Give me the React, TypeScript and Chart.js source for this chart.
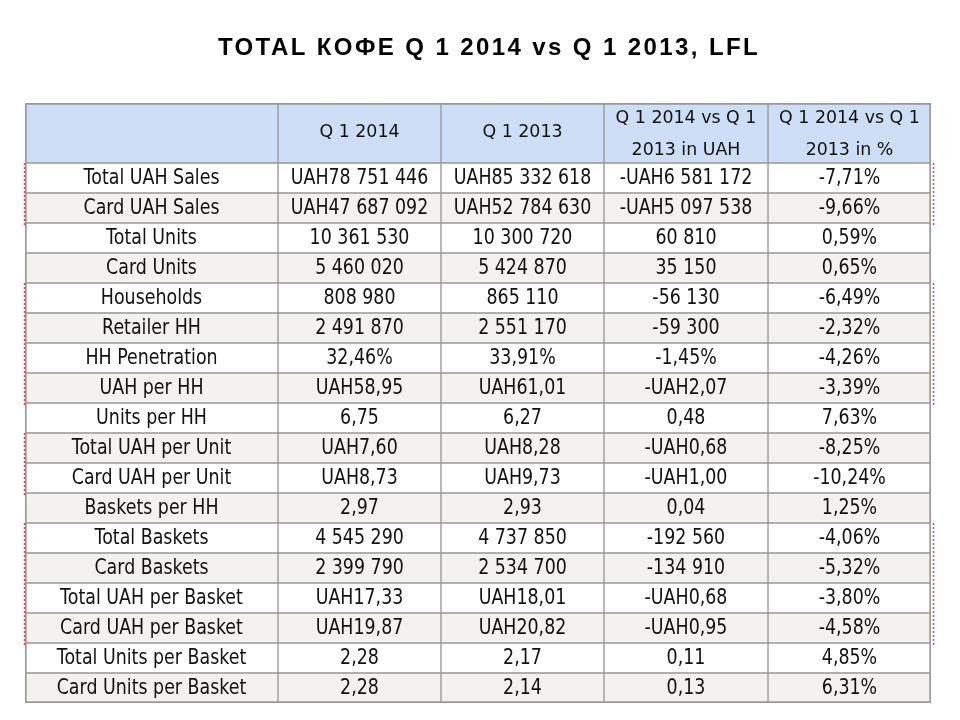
import React, { useEffect, useRef } from "react";
import { Chart, registerables } from "chart.js";

Chart.register(...registerables);

const titleText = "TOTAL КОФЕ Q 1 2014 vs Q 1 2013, LFL";

const headerLines: string[][] = [
  [],
  ["Q 1 2014"],
  ["Q 1 2013"],
  ["Q 1 2014 vs Q 1", "2013 in UAH"],
  ["Q 1 2014 vs Q 1", "2013 in %"],
];

const rowLabels = [
  "Total UAH Sales",
  "Card UAH Sales",
  "Total Units",
  "Card Units",
  "Households",
  "Retailer HH",
  "HH Penetration",
  "UAH per HH",
  "Units per HH",
  "Total UAH per Unit",
  "Card UAH per Unit",
  "Baskets per HH",
  "Total Baskets",
  "Card Baskets",
  "Total UAH per Basket",
  "Card UAH per Basket",
  "Total Units per Basket",
  "Card Units per Basket",
];

const rowFormats = [
  "uah0", "uah0", "int", "int", "int", "int", "pct", "uah2", "dec2",
  "uah2", "uah2", "dec2", "int", "int", "uah2", "uah2", "dec2", "dec2",
];

const q1_2014 = [
  78751446, 47687092, 10361530, 5460020, 808980, 2491870, 32.46, 58.95, 6.75,
  7.6, 8.73, 2.97, 4545290, 2399790, 17.33, 19.87, 2.28, 2.28,
];

const q1_2013 = [
  85332618, 52784630, 10300720, 5424870, 865110, 2551170, 33.91, 61.01, 6.27,
  8.28, 9.73, 2.93, 4737850, 2534700, 18.01, 20.82, 2.17, 2.14,
];

const diffUAH = [
  -6581172, -5097538, 60810, 35150, -56130, -59300, -1.45, -2.07, 0.48,
  -0.68, -1.0, 0.04, -192560, -134910, -0.68, -0.95, 0.11, 0.13,
];

const diffPct = [
  -7.71, -9.66, 0.59, 0.65, -6.49, -2.32, -4.26, -3.39, 7.63,
  -8.25, -10.24, 1.25, -4.06, -5.32, -3.8, -4.58, 4.85, 6.31,
];

// row groups highlighted with red dashed side markers (row indices)
const leftGroups = [[0, 1], [4, 7], [9, 10], [12, 15]];
const rightGroups = [[0, 1], [4, 7], [12, 15]];

// layout constants
const colWidths = [253, 163, 163, 164, 163];
const HEADER_ROWS = 2;
const GRID = "#999999";
const HEADER_BG = "#cddef6";
const BEIGE = "#f3f2ee";
const BODY_FONT = '20.5px "DejaVu Sans"';
const HEAD_FONT = '18.5px "DejaVu Sans"';
const BODY_SX = 0.85;
const HEAD_SX = 0.94;

function group(n: number): string {
  return Math.round(n).toString().replace(/\B(?=(\d{3})+(?!\d))/g, " ");
}

function fmt(v: number, kind: string): string {
  const sign = v < 0 ? "-" : "";
  const a = Math.abs(v);
  const d2 = a.toFixed(2).replace(".", ",");
  switch (kind) {
    case "uah0":
      return sign + "UAH" + group(a);
    case "int":
      return sign + group(a);
    case "pct":
      return sign + d2 + "%";
    case "uah2":
      return sign + "UAH" + d2;
    default:
      return sign + d2;
  }
}

function cellText(col: number, row: number): string {
  if (col === 0) return rowLabels[row];
  if (col === 1) return fmt(q1_2014[row], rowFormats[row]);
  if (col === 2) return fmt(q1_2013[row], rowFormats[row]);
  if (col === 3) return fmt(diffUAH[row], rowFormats[row]);
  return fmt(diffPct[row], "pct");
}

function drawScaled(ctx: CanvasRenderingContext2D, text: string, x: number, y: number, sx: number) {
  ctx.save();
  ctx.translate(x, y);
  ctx.scale(sx, 1);
  ctx.fillText(text, 0, 0);
  ctx.restore();
}

const tablePlugin = {
  id: "tableText",
  afterDatasetsDraw(chart: any) {
    const ctx: CanvasRenderingContext2D = chart.ctx;
    const yScale = chart.scales.y;
    const area = chart.chartArea;
    const half = (yScale.getPixelForValue(1) - yScale.getPixelForValue(0)) / 2;
    ctx.save();
    ctx.fillStyle = "#111";
    ctx.textAlign = "center";
    ctx.textBaseline = "alphabetic";
    // header
    const hTop = yScale.getPixelForValue(0) - half;
    const hBot = yScale.getPixelForValue(1) + half;
    const hMid = (hTop + hBot) / 2;
    ctx.font = HEAD_FONT;
    headerLines.forEach((lines, c) => {
      const el = chart.getDatasetMeta(c).data[0];
      const cx = (el.x + el.base) / 2;
      if (lines.length === 1) {
        drawScaled(ctx, lines[0], cx, hMid + 3.5, HEAD_SX);
      } else if (lines.length === 2) {
        drawScaled(ctx, lines[0], cx, hMid - 10, HEAD_SX);
        drawScaled(ctx, lines[1], cx, hMid + 21.7, HEAD_SX);
      }
    });
    // body
    ctx.font = BODY_FONT;
    for (let c = 0; c < colWidths.length; c++) {
      const meta = chart.getDatasetMeta(c);
      for (let r = 0; r < rowLabels.length; r++) {
        const el = meta.data[r + HEADER_ROWS];
        const cx = (el.x + el.base) / 2;
        drawScaled(ctx, cellText(c, r), cx, el.y + 5.5, BODY_SX);
      }
    }
    // red dashed markers
    ctx.strokeStyle = "#e8404a";
    ctx.lineWidth = 1.5;
    ctx.setLineDash([2, 2]);
    const seg = (x: number, g: number[]) => {
      const y0 = yScale.getPixelForValue(g[0] + HEADER_ROWS) - half;
      const y1 = yScale.getPixelForValue(g[1] + HEADER_ROWS) + half;
      ctx.beginPath();
      ctx.moveTo(x, y0);
      ctx.lineTo(x, y1 + 2);
      ctx.stroke();
    };
    leftGroups.forEach((g) => seg(area.left - 0.5, g));
    rightGroups.forEach((g) => seg(area.right + 2.5, g));
    ctx.restore();
  },
};

const titlePlugin = {
  id: "slideTitle",
  afterDraw(chart: any) {
    const ctx: CanvasRenderingContext2D = chart.ctx;
    ctx.save();
    ctx.fillStyle = "#000";
    ctx.font = 'bold 24px "Liberation Sans"';
    ctx.textAlign = "center";
    ctx.textBaseline = "alphabetic";
    (ctx as any).letterSpacing = "2.4px";
    ctx.fillText(titleText, 489, 55);
    ctx.restore();
  },
};

export default function App() {
  const ref = useRef<HTMLCanvasElement | null>(null);
  useEffect(() => {
    if (!ref.current) return;
    const starts: number[] = [];
    let acc = 0;
    colWidths.forEach((w) => {
      starts.push(acc);
      acc += w;
    });
    const total = acc;
    const labels = ["header-1", "header-2", ...rowLabels];
    const nRows = labels.length;
    const bg = (i: number) => {
      if (i < HEADER_ROWS) return HEADER_BG;
      return (i - HEADER_ROWS) % 2 === 0 ? "#ffffff" : BEIGE;
    };
    const chart = new Chart(ref.current, {
      type: "bar",
      data: {
        labels,
        datasets: colWidths.map((w, ci) => ({
          label: "col" + ci,
          data: labels.map(() => [starts[ci], starts[ci] + w]) as any,
          backgroundColor: (c: any) => bg(c.dataIndex),
          borderColor: GRID,
          borderWidth: (c: any) => {
            const i = c.dataIndex;
            const ds = c.datasetIndex;
            return {
              top: i === 0 ? 2 : i === 1 ? 0 : 1,
              bottom: i === nRows - 1 ? 2 : i === 0 ? 0 : 1,
              left: ds === 0 ? 2 : 1,
              right: ds === colWidths.length - 1 ? 2 : 1,
            };
          },
          borderSkipped: false,
          barPercentage: 1,
          categoryPercentage: 1,
          grouped: false,
        })),
      },
      options: {
        indexAxis: "y",
        responsive: false,
        animation: false,
        events: [],
        layout: { padding: { left: 25, right: 29, top: 103, bottom: 17 } },
        scales: {
          x: { type: "linear", min: 0, max: total, display: false },
          y: { display: false },
        },
        plugins: { legend: { display: false }, tooltip: { enabled: false }, title: { display: false } },
      } as any,
      plugins: [tablePlugin, titlePlugin],
    });
    return () => chart.destroy();
  }, []);
  return (
    <div style={{ position: "absolute", left: 0, top: 0, width: 960, height: 720, background: "#fff" }}>
      <canvas ref={ref} width={960} height={720} style={{ display: "block" }} />
    </div>
  );
}
